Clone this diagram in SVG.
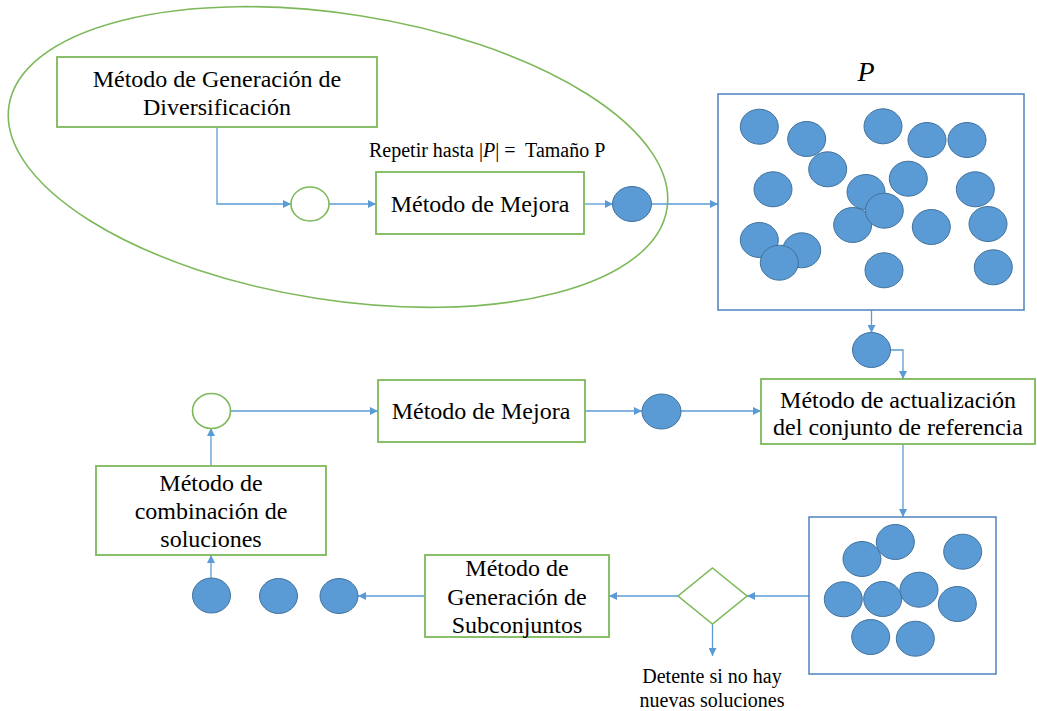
<svg xmlns="http://www.w3.org/2000/svg" width="1037" height="711" viewBox="0 0 1037 711" font-family="'Liberation Serif', 'Times New Roman', serif">
<style>
.box{fill:#fff;stroke:#7DB95B;stroke-width:1.8}
.ring{fill:#fff;stroke:#7DB95B;stroke-width:1.6}
.dot{fill:#5B9BD5;stroke:#41719C;stroke-width:1}
.pbox{fill:#fff;stroke:#4F83BF;stroke-width:1.5}
.con{fill:none;stroke:#5B9BD5;stroke-width:1.3;marker-end:url(#ah)}
.t{font-family:'Liberation Serif','Times New Roman',serif;font-size:24px;fill:#000;text-anchor:middle}
.s{font-family:'Liberation Serif','Times New Roman',serif;font-size:20px;fill:#000}
</style>
<defs>
<marker id="ah" viewBox="0 0 10 10" refX="10" refY="5" markerWidth="8" markerHeight="8" markerUnits="userSpaceOnUse" orient="auto"><path d="M0,0 L10,5 L0,10 z" fill="#5B9BD5"/></marker>
</defs>
<rect width="1037" height="711" fill="#fff"/>

<g id="loop">
<ellipse cx="338" cy="157" rx="333" ry="143" transform="rotate(8.9 338 157)" fill="none" stroke="#7DB95B" stroke-width="1.6"/>
</g>

<g id="connectors">
<path class="con" d="M217,127 V204 H291"/>
<path class="con" d="M329,204 H376"/>
<path class="con" d="M584,204 H613"/>
<path class="con" d="M652,204 H718"/>
<path class="con" d="M871.5,310 V333"/>
<path class="con" d="M891,350 H903 V379"/>
<path class="con" d="M231,411 H378"/>
<path class="con" d="M585,411 H642"/>
<path class="con" d="M681,411 H761"/>
<path class="con" d="M903,444 V517"/>
<path class="con" d="M809,596 H747"/>
<path class="con" d="M678,596 H609"/>
<path class="con" d="M712.5,624 V656"/>
<path class="con" d="M425,596 H358"/>
<path class="con" d="M211,578 V555"/>
<path class="con" d="M211,466 V428"/>
</g>

<g id="gen-div">
<rect class="box" x="57" y="57" width="320" height="70"/>
<text class="t" x="217" y="87">Método de Generación de</text>
<text class="t" x="217" y="115">Diversificación</text>
</g>

<g id="repetir">
<text class="s" x="369" y="157" xml:space="preserve">Repetir hasta |<tspan font-style="italic">P</tspan>| =  Tamaño P</text>
</g>

<g id="ring1"><ellipse class="ring" cx="310" cy="204" rx="19" ry="17"/></g>

<g id="mejora1">
<rect class="box" x="376" y="172" width="208" height="62"/>
<text class="t" x="480" y="212">Método de Mejora</text>
</g>

<g id="dot1"><ellipse class="dot" cx="632" cy="204" rx="19.5" ry="17.5"/></g>

<g id="P-label"><text x="866" y="81" font-family="'Liberation Serif', 'Times New Roman', serif" font-size="28" font-style="italic" text-anchor="middle">P</text></g>

<g id="P-box">
<rect class="pbox" x="718" y="94" width="306" height="216"/>
<ellipse class="dot" cx="759.3" cy="126.7" rx="19" ry="17.5"/>
<ellipse class="dot" cx="806.7" cy="139" rx="19" ry="17.5"/>
<ellipse class="dot" cx="883" cy="126.3" rx="19" ry="17.5"/>
<ellipse class="dot" cx="927" cy="140" rx="19" ry="17.5"/>
<ellipse class="dot" cx="967" cy="140" rx="19" ry="17.5"/>
<ellipse class="dot" cx="827.7" cy="169.3" rx="19" ry="17.5"/>
<ellipse class="dot" cx="773" cy="189.3" rx="19" ry="17.5"/>
<ellipse class="dot" cx="866" cy="192" rx="19" ry="17.5"/>
<ellipse class="dot" cx="908.3" cy="178.7" rx="19" ry="17.5"/>
<ellipse class="dot" cx="975.3" cy="189.3" rx="19" ry="17.5"/>
<ellipse class="dot" cx="852.7" cy="225" rx="19" ry="17.5"/>
<ellipse class="dot" cx="884.3" cy="210.7" rx="19" ry="17.5"/>
<ellipse class="dot" cx="931.3" cy="227" rx="19" ry="17.5"/>
<ellipse class="dot" cx="988" cy="224" rx="19" ry="17.5"/>
<ellipse class="dot" cx="759.3" cy="240" rx="19" ry="17.5"/>
<ellipse class="dot" cx="801.7" cy="250.3" rx="19" ry="17.5"/>
<ellipse class="dot" cx="779.3" cy="262.7" rx="19" ry="17.5"/>
<ellipse class="dot" cx="884" cy="270.3" rx="19" ry="17.5"/>
<ellipse class="dot" cx="993.3" cy="267.3" rx="19" ry="17.5"/>
</g>

<g id="dot2"><ellipse class="dot" cx="871.5" cy="350" rx="19" ry="17.5"/></g>

<g id="actualizacion">
<rect class="box" x="761" y="379" width="274" height="65"/>
<text class="t" x="898" y="408">Método de actualización</text>
<text class="t" x="898" y="435">del conjunto de referencia</text>
</g>

<g id="dot3"><ellipse class="dot" cx="661.5" cy="411.5" rx="19.5" ry="17.5"/></g>

<g id="mejora2">
<rect class="box" x="378" y="380" width="207" height="62"/>
<text class="t" x="481" y="419">Método de Mejora</text>
</g>

<g id="ring2"><ellipse class="ring" cx="211.5" cy="411" rx="19" ry="17.5"/></g>

<g id="combinacion">
<rect class="box" x="96" y="466" width="230" height="89"/>
<text class="t" x="211" y="491">Método de</text>
<text class="t" x="211" y="519">combinación de</text>
<text class="t" x="211" y="547">soluciones</text>
</g>

<g id="subsets">
<ellipse class="dot" cx="211.5" cy="595.5" rx="19" ry="17.5"/>
<ellipse class="dot" cx="278.5" cy="596" rx="19" ry="17.5"/>
<ellipse class="dot" cx="339" cy="596" rx="19" ry="17.5"/>
</g>

<g id="gen-sub">
<rect class="box" x="425" y="555" width="184" height="82"/>
<text class="t" x="517" y="576">Método de</text>
<text class="t" x="517" y="605">Generación de</text>
<text class="t" x="517" y="633">Subconjuntos</text>
</g>

<g id="decision">
<path d="M712.5,568 L747,596 L712.5,624 L678,596 z" fill="#fff" stroke="#7DB95B" stroke-width="1.6"/>
</g>

<g id="stop-label">
<text class="s" x="712" y="683" text-anchor="middle">Detente si no hay</text>
<text class="s" x="712" y="707" text-anchor="middle">nuevas soluciones</text>
</g>

<g id="refset">
<rect class="pbox" x="809" y="517" width="187" height="157"/>
<ellipse class="dot" cx="862" cy="559" rx="19" ry="17.5"/>
<ellipse class="dot" cx="895.3" cy="542" rx="19" ry="17.5"/>
<ellipse class="dot" cx="962.7" cy="551.7" rx="19" ry="17.5"/>
<ellipse class="dot" cx="843.3" cy="599.3" rx="19" ry="17.5"/>
<ellipse class="dot" cx="882.7" cy="599" rx="19" ry="17.5"/>
<ellipse class="dot" cx="919" cy="589.7" rx="19" ry="17.5"/>
<ellipse class="dot" cx="957.3" cy="604" rx="19" ry="17.5"/>
<ellipse class="dot" cx="870.7" cy="637" rx="19" ry="17.5"/>
<ellipse class="dot" cx="915.3" cy="638.7" rx="19" ry="17.5"/>
</g>
</svg>
